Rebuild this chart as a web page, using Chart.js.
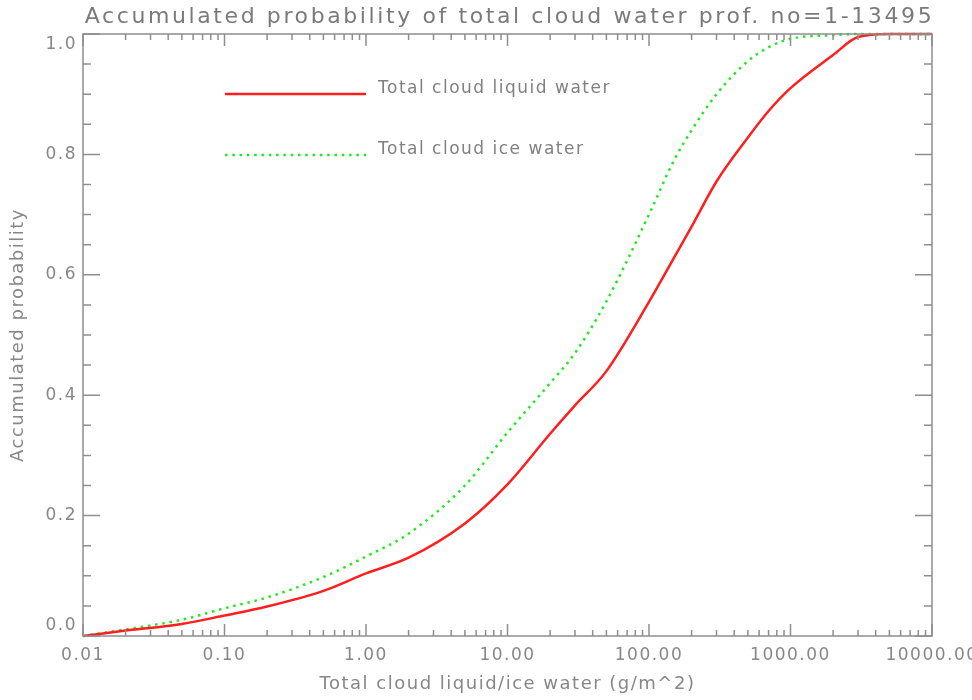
<!DOCTYPE html>
<html>
<head>
<meta charset="utf-8">
<script src="https://cdn.jsdelivr.net/npm/chart.js@4.4.0/dist/chart.umd.min.js"></script>
<style>
  html, body { margin: 0; padding: 0; background: #fff; }
  #wrap { width: 972px; height: 700px; }
</style>
</head>
<body>
<div id="wrap"><canvas id="myChart" width="972" height="700"></canvas></div>
<script>
// Dữ liệu
var xValues = [0.01, 0.02, 0.05, 0.1, 0.2, 0.5, 1, 2, 5, 10, 20, 30, 50, 100, 150, 200, 300, 500, 700, 1000, 2000, 3000, 5000, 10000];
var liquidProb = [0.0, 0.009, 0.02, 0.034, 0.049, 0.075, 0.104, 0.130, 0.187, 0.252, 0.336, 0.383, 0.44, 0.555, 0.628, 0.68, 0.755, 0.828, 0.872, 0.91, 0.965, 0.995, 1.0, 1.0];
var iceProb = [0.0, 0.011, 0.027, 0.046, 0.064, 0.098, 0.132, 0.170, 0.25, 0.338, 0.42, 0.47, 0.556, 0.70, 0.79, 0.84, 0.90, 0.955, 0.978, 0.992, 0.998, 1.0, 1.0, 1.0];
var xTicks = [0.01, 0.1, 1, 10, 100, 1000, 10000];
var yTicks = [0.0, 0.2, 0.4, 0.6, 0.8, 1.0];
var seriesNames = ['Total cloud liquid water', 'Total cloud ice water'];
var titleText = 'Accumulated probability of total cloud water prof. no=1-13495';

var FONT = 'DejaVu Sans';
var GREY = '#878787';

function toPoints(ys) {
    return xValues.map(function(x, i) { return { x: x, y: ys[i] }; });
}

document.addEventListener('DOMContentLoaded', function() {
    // khung, vạch chia hướng vào trong, tiêu đề và chú giải kiểu IDL
    var idlFrame = {
        id: 'idlFrame',
        beforeDraw: function(chart) {
            chart.ctx.letterSpacing = '1.5px';
        },
        afterDraw: function(chart) {
            var ctx = chart.ctx;
            var a = chart.chartArea;
            var sx = chart.scales.x, sy = chart.scales.y;
            ctx.save();
            ctx.strokeStyle = '#8e8e8e';
            ctx.lineWidth = 1.5;
            ctx.strokeRect(a.left, a.top, a.right - a.left, a.bottom - a.top);

            ctx.beginPath();
            // x: các thập phân và vạch phụ 2..9
            for (var d = 0; d < xTicks.length; d++) {
                var base = xTicks[d];
                for (var m = 1; m <= 9; m++) {
                    var v = base * m;
                    if (v > sx.max * 1.0001) break;
                    var px = sx.getPixelForValue(v);
                    var len = m === 1 ? 12 : 6;
                    ctx.moveTo(px, a.bottom); ctx.lineTo(px, a.bottom - len);
                    ctx.moveTo(px, a.top); ctx.lineTo(px, a.top + len);
                }
            }
            // y: vạch chính 0.2, vạch phụ 0.05
            for (var k = 0; k <= 20; k++) {
                var py = sy.getPixelForValue(k * 0.05);
                var l = (k % 4 === 0) ? 17 : 8;
                ctx.moveTo(a.left, py); ctx.lineTo(a.left + l, py);
                ctx.moveTo(a.right, py); ctx.lineTo(a.right - l, py);
            }
            ctx.stroke();

            // tiêu đề
            ctx.fillStyle = '#7a7a7a';
            ctx.font = '22px "' + FONT + '"';
            ctx.letterSpacing = '2.6px';
            ctx.textAlign = 'center';
            ctx.textBaseline = 'middle';
            ctx.fillText(titleText, (a.left + a.right) / 2 + 2, 17);

            // chú giải
            ctx.letterSpacing = '1.5px';
            ctx.font = '17px "' + FONT + '"';
            ctx.textAlign = 'left';
            var rows = [a.top + 60, a.top + 121];
            chart.data.datasets.forEach(function(ds, i) {
                var y = rows[i];
                ctx.strokeStyle = ds.borderColor;
                ctx.lineWidth = ds.borderWidth;
                ctx.setLineDash(ds.borderDash || []);
                ctx.beginPath();
                ctx.moveTo(a.left + 142, y);
                ctx.lineTo(a.left + 283, y);
                ctx.stroke();
                ctx.setLineDash([]);
                ctx.fillStyle = '#808080';
                ctx.fillText(ds.label, a.left + 295, y - 5);
            });
            ctx.restore();
        }
    };

    var data = {
        datasets: [{
            label: seriesNames[0],
            data: toPoints(liquidProb),
            borderColor: 'rgb(255, 30, 30)',
            borderWidth: 2.5,
            pointRadius: 0,
            cubicInterpolationMode: 'monotone',
            clip: false
        }, {
            label: seriesNames[1],
            data: toPoints(iceProb),
            borderColor: 'rgb(30, 235, 30)',
            borderWidth: 2.5,
            borderDash: [2.5, 4.8],
            pointRadius: 0,
            cubicInterpolationMode: 'monotone',
            clip: false
        }]
    };

    var options = {
        responsive: false,
        animation: false,
        layout: { padding: { top: 34, right: 40, left: 0, bottom: 0 } },
        plugins: {
            legend: { display: false },
            title: { display: false },
            tooltip: { enabled: false }
        },
        scales: {
            x: {
                type: 'logarithmic',
                min: 0.01,
                max: 10000,
                grid: { display: false, drawTicks: false },
                border: { display: false },
                afterBuildTicks: function(scale) {
                    scale.ticks = xTicks.map(function(v) { return { value: v, major: true }; });
                },
                afterFit: function(scale) {
                    scale.height = 64;
                    scale.paddingLeft = 0;
                    scale.paddingRight = 0;
                },
                ticks: {
                    autoSkip: false,
                    maxRotation: 0,
                    padding: 9,
                    color: GREY,
                    font: { family: FONT, size: 17 },
                    callback: function(v) { return Number(v).toFixed(2); }
                },
                title: {
                    display: true,
                    text: 'Total cloud liquid/ice water (g/m^2)',
                    color: GREY,
                    font: { family: FONT, size: 18 },
                    padding: { top: 0, bottom: 5 }
                }
            },
            y: {
                min: 0,
                max: 1,
                grid: { display: false, drawTicks: false },
                border: { display: false },
                afterBuildTicks: function(scale) {
                    scale.ticks = yTicks.map(function(v) { return { value: v }; });
                },
                afterFit: function(scale) {
                    scale.width = 83;
                    scale.paddingTop = 0;
                    scale.paddingBottom = 0;
                },
                ticks: {
                    padding: 6,
                    color: GREY,
                    font: { family: FONT, size: 17 },
                    callback: function(v) {
                        var s = Number(v).toFixed(1);
                        // nhãn đầu/cuối lệch vào trong như IDL
                        if (v >= 1) return ['', s];
                        if (v <= 0) return [s, ''];
                        return s;
                    }
                },
                title: {
                    display: true,
                    text: 'Accumulated probability',
                    color: GREY,
                    font: { family: FONT, size: 18 },
                    padding: { top: 8, bottom: 0 }
                }
            }
        }
    };

    var ctx = document.getElementById('myChart').getContext('2d');
    var myChart = new Chart(ctx, {
        type: 'line',
        data: data,
        options: options,
        plugins: [idlFrame]
    });
});
</script>
</body>
</html>
